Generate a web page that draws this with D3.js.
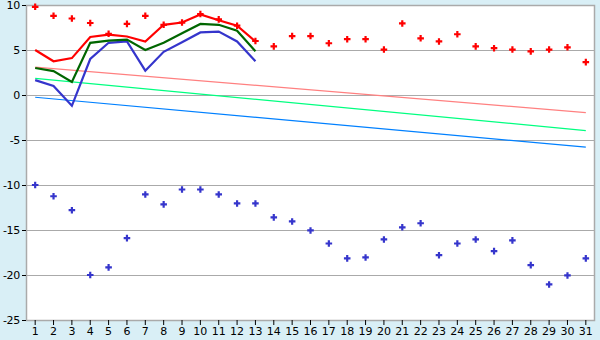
<!DOCTYPE html>
<meta charset="utf-8">
<html>
<head>
<style>
  body { margin: 0; background: #d9eff6; }
  svg { display: block; }
  text { font-family: "DejaVu Sans", Verdana, sans-serif; font-size: 11px; fill: #000; }
</style>
</head>
<body>
<div id="chart"></div>
<script src="https://d3js.org/d3.v7.min.js"></script>
<script>
  var days = d3.range(1, 32);
  var yTicks = [10, 5, 0, -5, -10, -15, -20, -25];

  // upper scatter (red), all days
  var redPoints = [9.8, 8.8, 8.5, 8.0, 6.8, 7.9, 8.8, 7.8, 8.05, 9.0, 8.4, 7.7, 6.0,
                   5.4, 6.55, 6.55, 5.75, 6.2, 6.2, 5.05, 7.95, 6.3, 5.95, 6.75, 5.4,
                   5.2, 5.05, 4.85, 5.05, 5.3, 3.65];
  // lower scatter (blue), all days
  var bluePoints = [-10.0, -11.25, -12.8, -20.0, -19.15, -15.9, -11.05, -12.15, -10.5, -10.5,
                    -11.05, -12.05, -12.05, -13.6, -14.05, -15.05, -16.5, -18.15, -18.05, -16.05,
                    -14.7, -14.25, -17.8, -16.5, -16.05, -17.35, -16.15, -18.9, -21.05, -20.05, -18.15];
  // lines over days 1-13
  var redLine   = [5.0, 3.75, 4.1, 6.45, 6.7, 6.5, 5.95, 7.8, 8.05, 8.95, 8.3, 7.7, 5.95];
  var greenLine = [3.0, 2.65, 1.45, 5.8, 6.05, 6.15, 5.0, 5.8, 6.85, 7.9, 7.8, 7.15, 4.85];
  var blueLine  = [1.65, 1.0, -1.2, 4.0, 5.8, 5.95, 2.7, 4.8, 5.85, 6.95, 7.05, 5.95, 3.75];
  // trend lines: value at day 1 and day 31
  var pinkTrend  = [3.1, -1.95];
  var mintTrend  = [1.85, -3.95];
  var skyTrend   = [-0.25, -5.8];

  var W = 600, H = 340;
  var margin = {top: 5, right: 5, bottom: 20, left: 26};
  var width = W - margin.left - margin.right,
      height = H - margin.top - margin.bottom;

  var svg = d3.select("#chart").append("svg")
      .attr("width", W)
      .attr("height", H);

  var g = svg.append("g")
      .attr("transform", "translate(" + margin.left + "," + margin.top + ")");

  var x = d3.scaleBand().domain(days).range([0, width]);
  var cx = function(d) { return x(d) + x.bandwidth() / 2; };
  var y = d3.scaleLinear().domain([-25, 10]).range([height, 0]);

  g.append("rect")
    .attr("width", width)
    .attr("height", height)
    .attr("fill", "#fff");

  // gridlines
  g.selectAll(".grid").data(yTicks).enter().append("line")
    .attr("x1", 0).attr("x2", width)
    .attr("y1", function(d) { return Math.round(y(d)) + 0.5; })
    .attr("y2", function(d) { return Math.round(y(d)) + 0.5; })
    .attr("stroke", "#aaa");

  // frame
  g.append("rect")
    .attr("x", 0.5).attr("y", 0.5)
    .attr("width", width - 1).attr("height", height)
    .attr("fill", "none")
    .attr("stroke", "#aaa")
    .attr("stroke-width", 1.5);

  // y axis (plain hyphen for negatives, like the original)
  var yAxis = g.append("g")
    .call(d3.axisLeft(y).tickValues(yTicks).tickSize(4).tickPadding(2)
      .tickFormat(function(d) { return String(d); }));
  yAxis.select(".domain").remove();
  yAxis.selectAll("text").attr("dy", "0.35em").style("letter-spacing", "-0.3px");

  // x axis
  var xAxis = g.append("g")
    .attr("transform", "translate(0," + height + ")")
    .call(d3.axisBottom(x).tickSize(5).tickPadding(2));
  xAxis.select(".domain").remove();

  // trend lines
  var trends = [[pinkTrend, "#ff8080"], [mintTrend, "#00ff80"], [skyTrend, "#0080ff"]];
  trends.forEach(function(t) {
    g.append("line")
      .attr("x1", cx(1)).attr("y1", y(t[0][0]))
      .attr("x2", cx(31)).attr("y2", y(t[0][1]))
      .attr("stroke", t[1])
      .attr("stroke-width", 1.2);
  });

  var line = d3.line()
    .x(function(d, i) { return cx(days[i]); })
    .y(function(d) { return y(d); });

  [[blueLine, "#3535cc"], [greenLine, "#006600"], [redLine, "#ff0000"]].forEach(function(s) {
    g.append("path")
      .datum(s[0])
      .attr("fill", "none")
      .attr("stroke", s[1])
      .attr("stroke-width", 2.2)
      .attr("d", line);
  });

  var cross = d3.symbol().type(d3.symbolCross).size(24);

  g.selectAll(".redpt").data(redPoints).enter().append("path")
    .attr("d", cross)
    .attr("transform", function(d, i) { return "translate(" + cx(days[i]) + "," + y(d) + ")"; })
    .attr("fill", "#ff0000");

  g.selectAll(".bluept").data(bluePoints).enter().append("path")
    .attr("d", cross)
    .attr("transform", function(d, i) { return "translate(" + cx(days[i]) + "," + y(d) + ")"; })
    .attr("fill", "#3535cc");
</script>
</body>
</html>
